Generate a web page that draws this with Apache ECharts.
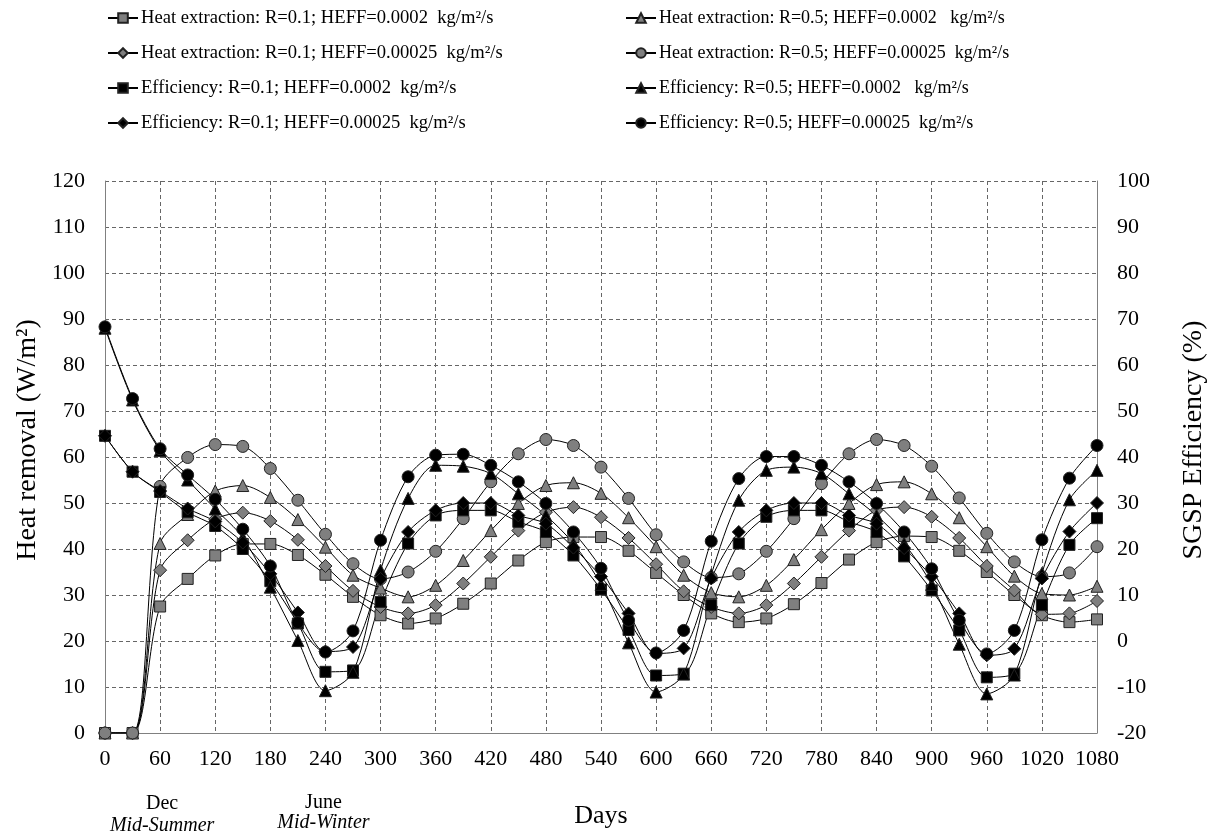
<!DOCTYPE html>
<html>
<head>
<meta charset="utf-8">
<title>SGSP heat removal and efficiency</title>
<script src="https://cdn.jsdelivr.net/npm/echarts@6/dist/echarts.min.js"></script>
<style>
html, body { margin: 0; padding: 0; background: #fff; }
#chart { width: 1211px; height: 836px; }
</style>
</head>
<body>
<div id="chart"></div>
<script>
// days (x values), one point every 30 days
var days = [0, 30, 60, 90, 120, 150, 180, 210, 240, 270, 300, 330, 360, 390, 420, 450, 480, 510, 540,
    570, 600, 630, 660, 690, 720, 750, 780, 810, 840, 870, 900, 930, 960, 990, 1020, 1050, 1080]

// heat extraction, W/m2 (left axis)
var heatR01H20 = [0, 0, 27.5, 33.5, 38.6, 41.1, 41.1, 38.7, 34.4, 29.6, 25.6, 23.8, 24.9, 28.1, 32.5, 37.5, 41.5, 42.6, 42.6,
    39.6, 34.8, 30, 26, 24.1, 24.9, 28, 32.6, 37.7, 41.5, 42.8, 42.6, 39.6, 35, 30, 25.6, 24.1, 24.7]
var heatR01H25 = [0, 0, 35.4, 41.9, 46.5, 47.9, 46.1, 42, 36.3, 30.9, 27.4, 26, 27.8, 32.5, 38.3, 44, 48, 49.1, 46.9,
    42.4, 36.7, 30.8, 27.4, 26, 27.8, 32.5, 38.3, 44, 48.4, 49.1, 47, 42.4, 36.3, 31, 25.8, 26, 28.7]
var heatR05H20 = [0, 0, 41.2, 47.5, 52.6, 53.8, 51.2, 46.4, 40.4, 34.3, 31.5, 29.6, 32.1, 37.5, 44, 49.9, 53.8, 54.4, 52.1,
    46.8, 40.5, 34.3, 30.5, 29.6, 32.1, 37.7, 44.2, 49.9, 54, 54.6, 52, 46.8, 40.5, 34.1, 30.3, 30, 31.9]
var heatR05H25 = [0, 0, 53.6, 59.9, 62.7, 62.3, 57.5, 50.6, 43.2, 36.8, 33.5, 35, 39.5, 46.6, 54.6, 60.7, 63.8, 62.5, 57.8,
    51, 43.1, 37.2, 33.8, 34.6, 39.5, 46.6, 54.2, 60.7, 63.8, 62.5, 58, 51.1, 43.4, 37.2, 34, 34.8, 40.5]

// SGSP efficiency, % (right axis)
var effR01H20 = [44.6, 36.8, 32.4, 28, 25, 20, 13, 3.8, -6.7, -6.4, 8.5, 21.2, 27.3, 28.4, 28.4, 25.9, 23.7, 18.6, 11.2,
    2.4, -7.5, -7.1, 7.8, 21.2, 27, 28.4, 28.4, 25.9, 23.7, 18.4, 11, 2.3, -7.9, -7.1, 7.8, 20.9, 26.7]
var effR01H25 = [44.6, 36.8, 32.6, 28.8, 26, 21.4, 14.6, 6.2, -2.3, -1.3, 13.5, 23.7, 28.4, 30, 30, 27.3, 25.5, 20.3, 14,
    6, -2.7, -1.6, 13.6, 23.7, 28.4, 30, 30, 27.3, 25.5, 20.2, 14, 6, -3.1, -1.7, 13.6, 23.8, 30]
var effR05H20 = [68, 52.4, 41.4, 35, 28.7, 22.5, 11.7, 0.1, -10.8, -6.8, 15.4, 31, 38.2, 38, 36.4, 32, 27.3, 21.2, 12.3,
    -0.4, -11.1, -7.2, 14.4, 30.6, 37.1, 37.8, 36.4, 32, 27.3, 21.2, 12.3, -0.7, -11.5, -7.4, 14.7, 30.7, 37.1]
var effR05H25 = [68.3, 52.7, 41.8, 36.1, 30.8, 24.3, 16.3, 4, -2.4, 2.2, 21.9, 35.7, 40.4, 40.6, 38.2, 34.6, 29.9, 23.7, 15.8,
    4.5, -2.6, 2.3, 21.7, 35.3, 40.1, 40.1, 38.2, 34.6, 29.9, 23.7, 15.7, 4.5, -2.8, 2.3, 22, 35.4, 42.5]

var leftTicks = { min: 0, max: 120, step: 10 }
var rightTicks = { min: -20, max: 100, step: 10 }
var dayTicks = { min: 0, max: 1080, step: 60 }

var names = {
    hs1: 'Heat extraction: R=0.1; HEFF=0.0002  kg/m²/s',
    hd1: 'Heat extraction: R=0.1; HEFF=0.00025  kg/m²/s',
    es1: 'Efficiency: R=0.1; HEFF=0.0002  kg/m²/s',
    ed1: 'Efficiency: R=0.1; HEFF=0.00025  kg/m²/s',
    ht5: 'Heat extraction: R=0.5; HEFF=0.0002   kg/m²/s',
    hc5: 'Heat extraction: R=0.5; HEFF=0.00025  kg/m²/s',
    et5: 'Efficiency: R=0.5; HEFF=0.0002   kg/m²/s',
    ec5: 'Efficiency: R=0.5; HEFF=0.00025  kg/m²/s'
}

var font = 'Liberation Serif'
var grey = '#7f7f7f'

function line(name, vals, symbol, size, fill, axis) {
    return {
        name: name,
        type: 'line',
        yAxisIndex: axis,
        smooth: 0.3,
        symbol: symbol,
        symbolSize: size,
        showAllSymbol: true,
        data: days.map(function (d, i) { return [d, vals[i]] }),
        lineStyle: { color: '#000', width: 1 },
        itemStyle: { color: fill, borderColor: '#222', borderWidth: 1 },
        emphasis: { disabled: true },
        animation: false
    }
}

var chart = echarts.init(document.getElementById('chart'))

function legendCol(left, size, data) {
    return {
        orient: 'vertical',
        left: left,
        top: 8,
        padding: 0,
        itemWidth: 30,
        itemHeight: 12,
        itemGap: 15,
        selectedMode: false,
        textStyle: { fontFamily: font, fontSize: size, color: '#000', lineHeight: 20, padding: [0, 0, 0, -2] },
        data: data
    }
}

function plainNum(v) { return String(v) }

chart.setOption({
    backgroundColor: '#fff',
    animation: false,
    textStyle: { fontFamily: font },
    legend: [
        legendCol(107, 18.6, [names.hs1, names.hd1, names.es1, names.ed1]),
        legendCol(625, 18, [names.ht5, names.hc5, names.et5, names.ec5])
    ],
    grid: { left: 105, right: 114, top: 181, bottom: 103 },
    xAxis: {
        type: 'value',
        min: dayTicks.min, max: dayTicks.max, interval: dayTicks.step,
        name: 'Days',
        nameLocation: 'middle',
        nameGap: 70,
        nameTextStyle: { fontFamily: font, fontSize: 26, color: '#000' },
        axisLine: { lineStyle: { color: '#808080', width: 1 } },
        axisTick: { show: false },
        axisLabel: { fontFamily: font, fontSize: 22, color: '#000', margin: 15, formatter: plainNum },
        splitLine: { show: true, lineStyle: { color: '#666', type: [4, 3], width: 1 } }
    },
    yAxis: [{
        type: 'value',
        min: leftTicks.min, max: leftTicks.max, interval: leftTicks.step,
        axisLine: { show: true, lineStyle: { color: '#808080', width: 1 } },
        axisTick: { show: false },
        axisLabel: { fontFamily: font, fontSize: 22, color: '#000', margin: 20, formatter: plainNum },
        splitLine: { show: true, lineStyle: { color: '#666', type: [4, 3], width: 1 } }
    }, {
        type: 'value',
        position: 'right',
        min: rightTicks.min, max: rightTicks.max, interval: rightTicks.step,
        axisLine: { show: true, lineStyle: { color: '#808080', width: 1 } },
        axisTick: { show: false },
        axisLabel: { fontFamily: font, fontSize: 22, color: '#000', margin: 20, formatter: plainNum },
        splitLine: { show: false }
    }],
    series: [
        line(names.hs1, heatR01H20, 'rect', 11, grey, 0),
        line(names.ht5, heatR05H20, 'triangle', 12, grey, 0),
        line(names.hd1, heatR01H25, 'diamond', 13, grey, 0),
        line(names.hc5, heatR05H25, 'circle', 12, grey, 0),
        line(names.es1, effR01H20, 'rect', 11, '#000', 1),
        line(names.et5, effR05H20, 'triangle', 12, '#000', 1),
        line(names.ed1, effR01H25, 'diamond', 13, '#000', 1),
        line(names.ec5, effR05H25, 'circle', 12, '#000', 1)
    ]
})

// season notes under the day axis, axis titles on the sides
var xDec = chart.convertToPixel({ xAxisIndex: 0 }, 60)
var xJune = chart.convertToPixel({ xAxisIndex: 0 }, 240)
chart.setOption({
    graphic: [
        { type: 'text', x: xDec + 2, y: 804, style: { text: 'Dec', align: 'center', verticalAlign: 'middle', font: '20px "Liberation Serif"', fill: '#000' } },
        { type: 'text', x: xDec + 2, y: 826, style: { text: 'Mid-Summer', align: 'center', verticalAlign: 'middle', font: 'italic 20px "Liberation Serif"', fill: '#000' } },
        { type: 'text', x: xJune - 2, y: 803, style: { text: 'June', align: 'center', verticalAlign: 'middle', font: '20px "Liberation Serif"', fill: '#000' } },
        { type: 'text', x: xJune - 2, y: 823, style: { text: 'Mid-Winter', align: 'center', verticalAlign: 'middle', font: 'italic 20px "Liberation Serif"', fill: '#000' } },
        { type: 'text', x: 28, y: 440, rotation: Math.PI / 2, style: { text: 'Heat removal (W/m²)', align: 'center', verticalAlign: 'middle', font: '28px "Liberation Serif"', fill: '#000' } },
        { type: 'text', x: 1194, y: 440, rotation: Math.PI / 2, style: { text: 'SGSP Efficiency (%)', align: 'center', verticalAlign: 'middle', font: '28px "Liberation Serif"', fill: '#000' } }
    ]
})
</script>
</body>
</html>
